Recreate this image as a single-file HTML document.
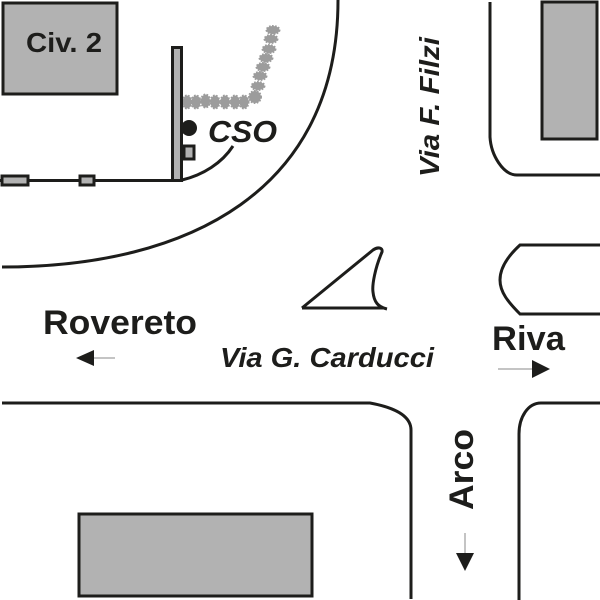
<!DOCTYPE html>
<html>
<head>
<meta charset="utf-8">
<style>
html,body{margin:0;padding:0;background:#fff;}
svg{display:block;}
text{font-family:"Liberation Sans",sans-serif;font-weight:bold;fill:#1d1d1b;}
.i{font-style:italic;}
.l{fill:none;stroke:#1d1d1b;stroke-width:3;}
.g{fill:#b2b2b2;stroke:#1d1d1b;stroke-width:3;}
.s{fill:#9c9c9c;stroke:#9c9c9c;stroke-width:2;stroke-dasharray:1.6 1.4;}
</style>
</head>
<body>
<svg width="600" height="600" viewBox="0 0 600 600" xmlns="http://www.w3.org/2000/svg">
<rect width="600" height="600" fill="#fff"/>

<!-- buildings -->
<rect class="g" x="3" y="3" width="114" height="91"/>
<rect class="g" x="542" y="2" width="55" height="137"/>
<rect class="g" x="79" y="514" width="233" height="82"/>

<!-- roads -->
<path class="l" d="M338 0 C338 190 190 267 2 267"/>
<path class="l" d="M490 2 L490 137 C491 155 503 175 517 175 L600 175"/>
<path class="l" d="M600 245 L520 245 C508 256 500 268 500 280 C500 292 508 302 520 314 L600 314"/>
<path class="l" d="M2 403 L370 403 C392 407 411 415 411 430 L411 599"/>
<path class="l" d="M600 403 L541 403 C528 403 519 417 519 434 L519 600"/>
<path class="l" stroke-linejoin="miter" d="M302 308 L373 250 C377 247 383 247 382 252 C375 268 372 285 373 292 C374 302 378 307 387 309 M302 308 L383 308"/>

<!-- pipeline -->
<g class="s">
<ellipse cx="187" cy="102" rx="4.500" ry="6.500"/>
<ellipse cx="196" cy="102" rx="4.500" ry="6.500"/>
<ellipse cx="205.500" cy="101" rx="4.500" ry="6.500"/>
<ellipse cx="215" cy="102" rx="4.500" ry="6.500"/>
<ellipse cx="225" cy="102" rx="4.500" ry="6.500"/>
<ellipse cx="235" cy="102" rx="4.500" ry="6.500"/>
<ellipse cx="244" cy="102" rx="4.500" ry="6.500"/>
<ellipse cx="255" cy="97" rx="6" ry="6"/>
<ellipse cx="258" cy="86" rx="6.500" ry="4"/>
<ellipse cx="260" cy="76" rx="6.500" ry="4"/>
<ellipse cx="263" cy="67" rx="6.500" ry="4"/>
<ellipse cx="266" cy="58" rx="6.500" ry="4"/>
<ellipse cx="269" cy="49" rx="6.500" ry="4"/>
<ellipse cx="271" cy="39" rx="6.500" ry="4"/>
<ellipse cx="273" cy="30" rx="6.500" ry="4"/>
</g>

<!-- CSO installation -->
<path class="l" d="M0 180.500 L182 180.500"/>
<path class="l" stroke-width="2.500" d="M182 180 C203 175 222 163 233 146"/>
<rect class="g" x="2" y="176" width="26" height="9"/>
<rect class="g" x="80" y="176" width="14" height="9"/>
<rect class="g" x="172.500" y="47.500" width="9" height="133"/>
<rect class="g" x="184" y="146" width="10" height="13"/>
<circle cx="189" cy="128" r="8" fill="#1d1d1b"/>

<!-- arrows -->
<path d="M94 358 L115 358 M498 369 L532 369 M465 533 L465 555" stroke="#8a8a8a" stroke-width="1" fill="none"/>
<path d="M76 358 L94 350 L94 366 Z" fill="#1d1d1b"/>
<path d="M532 360 L550 369 L532 378 Z" fill="#1d1d1b"/>
<path d="M456 553 L474 553 L465 571 Z" fill="#1d1d1b"/>

<!-- labels -->
<text x="26" y="52" font-size="28" textLength="76" lengthAdjust="spacingAndGlyphs">Civ. 2</text>
<text class="i" x="208" y="142" font-size="31" textLength="69" lengthAdjust="spacingAndGlyphs">CSO</text>
<text class="i" font-size="28" textLength="140" lengthAdjust="spacingAndGlyphs" transform="translate(439 177) rotate(-90)">Via F. Filzi</text>
<text x="43" y="334" font-size="34" textLength="154" lengthAdjust="spacingAndGlyphs">Rovereto</text>
<text class="i" x="220" y="367" font-size="28" textLength="214" lengthAdjust="spacingAndGlyphs">Via G. Carducci</text>
<text x="492" y="350" font-size="34" textLength="73" lengthAdjust="spacingAndGlyphs">Riva</text>
<text font-size="34" textLength="81" lengthAdjust="spacingAndGlyphs" transform="translate(473 510) rotate(-90)">Arco</text>
</svg>
</body>
</html>
